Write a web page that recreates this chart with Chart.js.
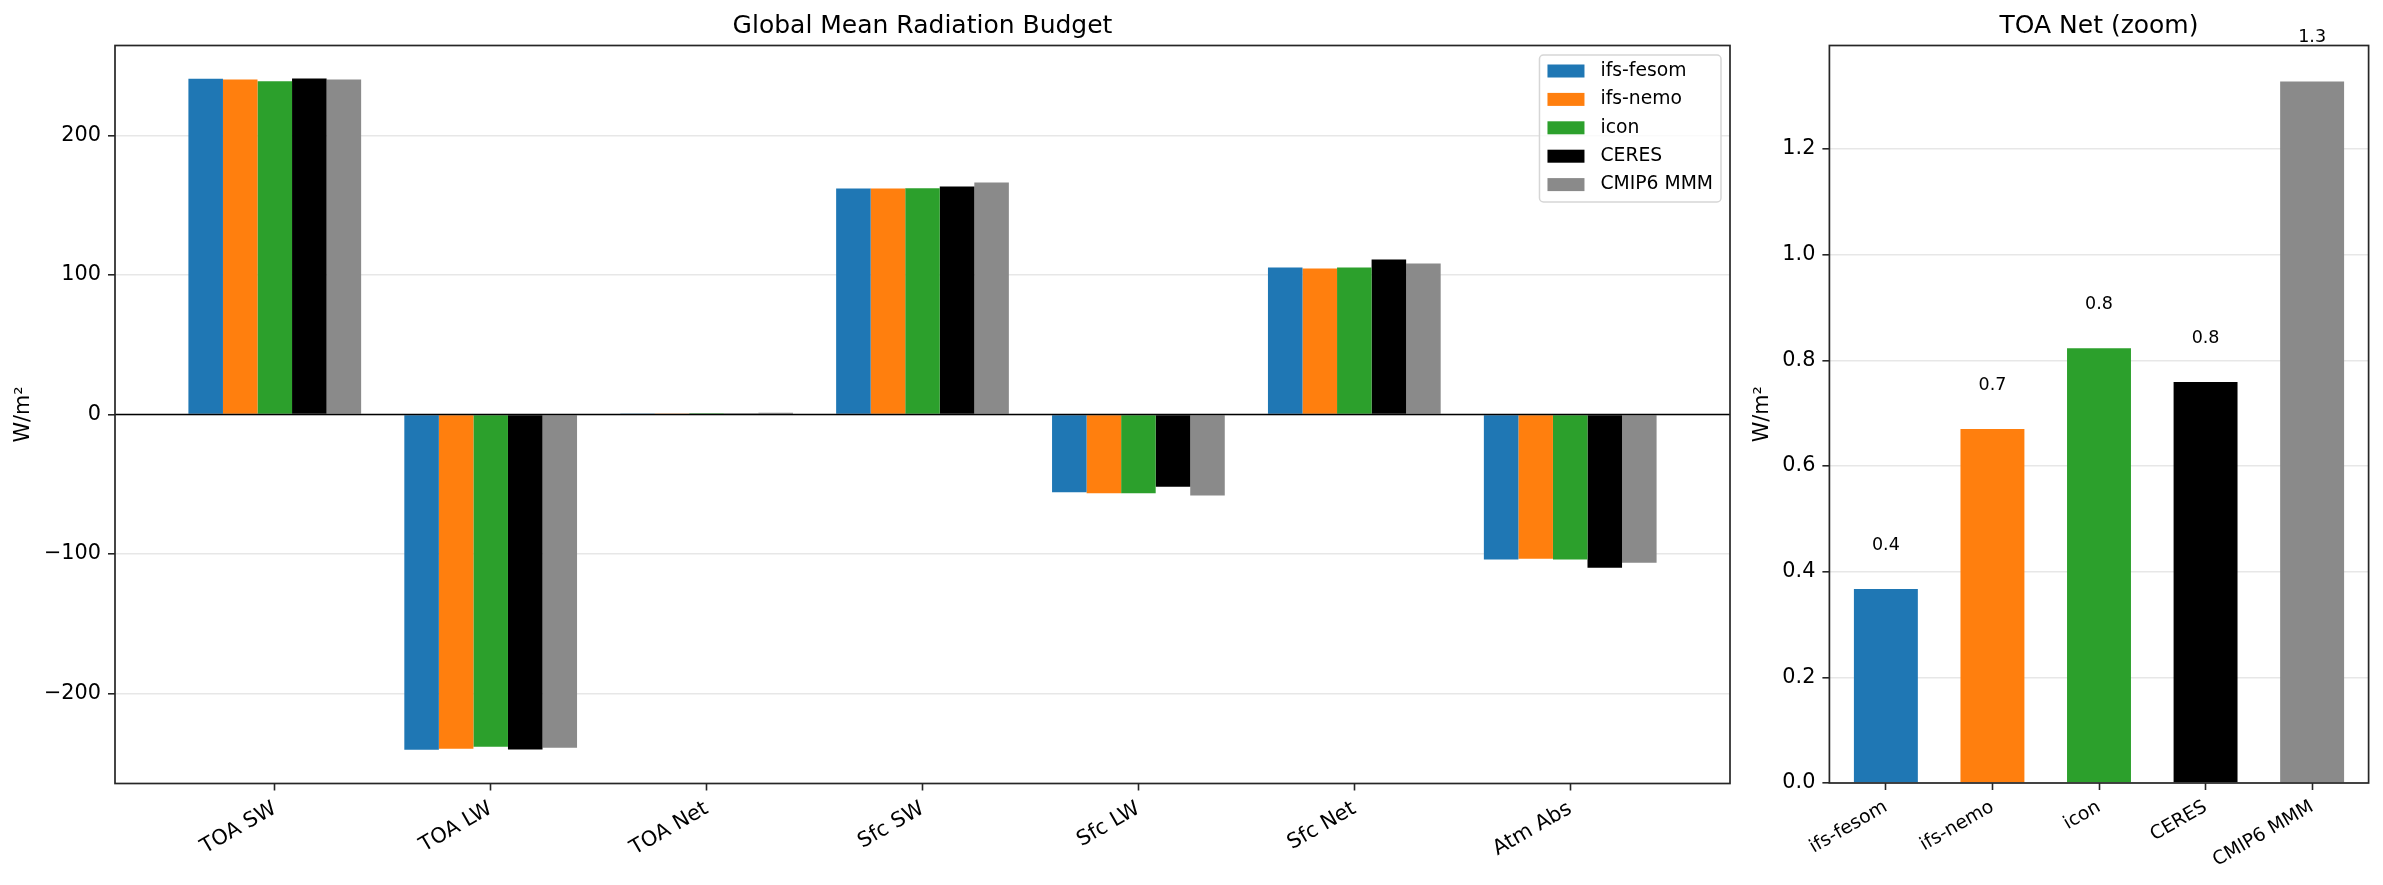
<!DOCTYPE html>
<html>
<head>
<meta charset="utf-8">
<title>Global Mean Radiation Budget</title>
<script src="https://cdn.jsdelivr.net/npm/chart.js@4.4.1/dist/chart.umd.min.js"></script>
<style>
  html, body { margin: 0; padding: 0; background: #fff; }
  body { width: 2383px; height: 885px; position: relative; overflow: hidden; }
  .panel { position: absolute; top: 0; height: 885px; }
  #budgetBox { left: 0; width: 1740px; }
  #zoomBox { left: 1740px; width: 643px; }
</style>
</head>
<body>
<div class="panel" id="budgetBox"><canvas id="budgetChart"></canvas></div>
<div class="panel" id="zoomBox"><canvas id="zoomChart"></canvas></div>
<script>
// data (W/m²)
const categories = ['TOA SW', 'TOA LW', 'TOA Net', 'Sfc SW', 'Sfc LW', 'Sfc Net', 'Atm Abs'];
const models = ['ifs-fesom', 'ifs-nemo', 'icon', 'CERES', 'CMIP6 MMM'];
const ifsFesom = [240.7, -240.3, 0.37, 162.0, -55.8, 105.4, -104.0];
const ifsNemo  = [240.2, -239.6, 0.67, 162.0, -56.5, 104.7, -103.4];
const icon     = [238.9, -238.1, 0.82, 162.1, -56.5, 105.4, -104.0];
const ceres    = [240.9, -240.1, 0.76, 163.4, -51.8, 111.1, -109.8];
const cmip6    = [240.1, -238.8, 1.33, 166.3, -58.0, 108.2, -106.2];
const toaNet   = [0.367, 0.670, 0.823, 0.759, 1.328];

const budgetTicks = [-200, -100, 0, 100, 200];
const zoomTicks = [0, 0.2, 0.4, 0.6, 0.8, 1.0, 1.2];

const colors = ['#1f77b4', '#ff7f0e', '#2ca02c', '#000000', '#8a8a8a'];
const FONT = '"DejaVu Sans", "Noto Sans", sans-serif';
const labelLift = 0.074;

Chart.defaults.font.family = FONT;
Chart.defaults.color = '#000';

const series = [ifsFesom, ifsNemo, icon, ceres, cmip6];

// matplotlib-ish axes frame
const framePlugin = {
  id: 'frame',
  afterDraw(chart) {
    const { ctx, chartArea: a } = chart;
    ctx.save();
    ctx.strokeStyle = '#262626';
    ctx.lineWidth = 1.7;
    ctx.strokeRect(a.left, a.top, a.right - a.left, a.bottom - a.top);
    ctx.restore();
  }
};

const zeroLine = {
  id: 'zeroLine',
  afterDraw(chart) {
    const { ctx, chartArea: a } = chart;
    const y = chart.scales.y.getPixelForValue(0);
    ctx.save();
    ctx.strokeStyle = '#000';
    ctx.lineWidth = 1.7;
    ctx.beginPath();
    ctx.moveTo(a.left, y);
    ctx.lineTo(a.right, y);
    ctx.stroke();
    ctx.restore();
  }
};

const boxLegend = {
  id: 'boxLegend',
  afterDraw(chart) {
    const { ctx, chartArea: a } = chart;
    const sets = chart.data.datasets;
    const fs = 18.75, pad = 8, handleW = 37, handleH = 13, gap = 16, rowH = 28.4;
    ctx.save();
    ctx.font = fs + 'px ' + FONT;
    const textW = Math.max(...sets.map(d => ctx.measureText(d.label).width));
    const w = pad + handleW + gap + textW + pad;
    const h = rowH * sets.length + 5;
    const x0 = a.right - 9 - w;
    const y0 = a.top + 9.5;
    ctx.beginPath();
    ctx.roundRect(x0, y0, w, h, 4);
    ctx.fillStyle = 'rgba(255,255,255,0.8)';
    ctx.fill();
    ctx.strokeStyle = '#d6d6d6';
    ctx.lineWidth = 1.5;
    ctx.stroke();
    ctx.textBaseline = 'middle';
    ctx.textAlign = 'left';
    sets.forEach((d, i) => {
      const cy = y0 + 16 + i * rowH;
      ctx.fillStyle = d.backgroundColor;
      ctx.fillRect(x0 + pad, cy - handleH / 2, handleW, handleH);
      ctx.fillStyle = '#000';
      ctx.fillText(d.label, x0 + pad + handleW + gap, cy);
    });
    ctx.restore();
  }
};

const valueLabels = {
  id: 'valueLabels',
  afterDraw(chart) {
    const { ctx } = chart;
    const xs = chart.scales.x, ys = chart.scales.y;
    ctx.save();
    ctx.font = '17.5px ' + FONT;
    ctx.fillStyle = '#000';
    ctx.textAlign = 'center';
    ctx.textBaseline = 'alphabetic';
    toaNet.forEach((v, i) => {
      ctx.fillText(v.toFixed(1), xs.getPixelForValue(i), ys.getPixelForValue(v + labelLift));
    });
    ctx.restore();
  }
};

function minusFmt(v) {
  return v < 0 ? '\u2212' + Math.abs(v) : String(v);
}

function xAxis(labels, min, max, fontSize, height) {
  return {
    type: 'linear',
    min: min,
    max: max,
    offset: false,
    afterBuildTicks: s => { s.ticks = labels.map((_, i) => ({ value: i })); },
    afterFit: s => { s.height = height; },
    grid: { drawOnChartArea: false, offset: false, tickColor: '#262626', tickLength: 7, tickWidth: 1.6 },
    border: { display: false },
    ticks: {
      autoSkip: false,
      minRotation: 30,
      maxRotation: 30,
      padding: 6,
      font: { size: fontSize },
      color: '#000',
      callback: v => labels[v]
    }
  };
}

function yAxis(tickVals, min, max, width, titlePad, fmt) {
  return {
    type: 'linear',
    min: min,
    max: max,
    z: 1,
    afterBuildTicks: s => { s.ticks = tickVals.map(v => ({ value: v })); },
    afterFit: s => { s.width = width; },
    grid: { color: 'rgba(176,176,176,0.3)', lineWidth: 1.6, tickColor: '#262626', tickLength: 7, tickWidth: 1.6 },
    border: { display: false },
    ticks: { padding: 7, font: { size: 20.8 }, color: '#000', callback: fmt },
    title: { display: true, text: 'W/m²', font: { size: 20.8 }, color: '#000', padding: { top: titlePad, bottom: 0 } }
  };
}

function titleOpts(text) {
  return {
    display: true,
    text: text,
    fullSize: false,
    color: '#000',
    font: { size: 25, weight: 'normal' },
    padding: { top: 11, bottom: 4.5 }
  };
}

new Chart(document.getElementById('budgetChart'), {
  type: 'bar',
  data: {
    datasets: models.map((name, j) => ({
      label: name,
      data: series[j].map((v, i) => ({ x: i, y: v })),
      backgroundColor: colors[j],
      borderWidth: 0,
      categoryPercentage: 0.8,
      barPercentage: 1.0
    }))
  },
  options: {
    responsive: true,
    maintainAspectRatio: false,
    animation: false,
    devicePixelRatio: 1,
    layout: { padding: { top: 0, left: 0, right: 10, bottom: 0 } },
    plugins: {
      title: titleOpts('Global Mean Radiation Budget'),
      legend: { display: false },
      tooltip: { enabled: false }
    },
    scales: {
      x: xAxis(categories, -0.74, 6.74, 20.8, 101.5),
      y: yAxis(budgetTicks, -264.5, 264.5, 115, 11.5, minusFmt)
    }
  },
  plugins: [zeroLine, boxLegend, framePlugin]
});

new Chart(document.getElementById('zoomChart'), {
  type: 'bar',
  data: {
    datasets: [{
      label: 'TOA Net',
      data: toaNet.map((v, i) => ({ x: i, y: v })),
      backgroundColor: colors,
      borderWidth: 0,
      categoryPercentage: 0.6,
      barPercentage: 1.0
    }]
  },
  options: {
    responsive: true,
    maintainAspectRatio: false,
    animation: false,
    devicePixelRatio: 1,
    layout: { padding: { top: 0, left: 0, right: 14.4, bottom: 0 } },
    plugins: {
      title: titleOpts('TOA Net (zoom)'),
      legend: { display: false },
      tooltip: { enabled: false }
    },
    scales: {
      x: xAxis(models, -0.53, 4.53, 18.75, 102),
      y: yAxis(zoomTicks, 0, 1.396, 89.4, 10.1, v => v.toFixed(1))
    }
  },
  plugins: [valueLabels, framePlugin]
});
</script>
</body>
</html>
